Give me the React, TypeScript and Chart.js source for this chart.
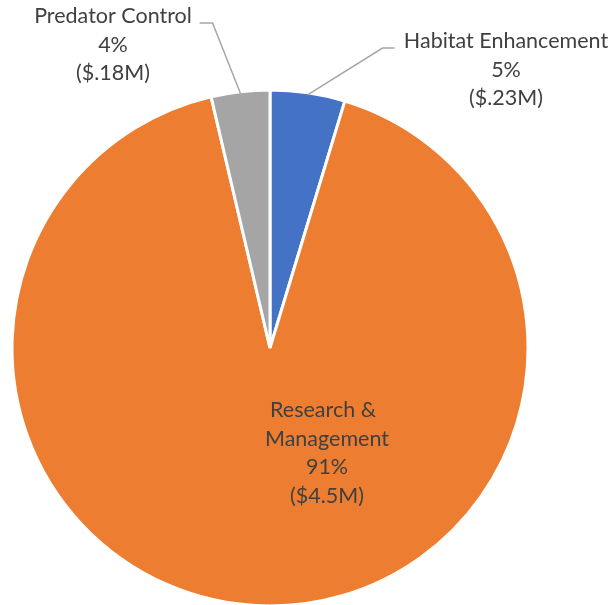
import React, { useEffect, useRef } from "react";
import { Chart, registerables } from "chart.js";

Chart.register(...registerables);

const categories = ["Habitat Enhancement", "Research & Management", "Predator Control"];
const valuesM = [0.23, 4.5, 0.18];
const percentLabels = ["5%", "91%", "4%"];
const moneyLabels = ["($.23M)", "($4.5M)", "($.18M)"];
const colors = ["#4472C4", "#ED7D31", "#A5A5A5"];

const FONT = "21.5px Lato";
const TEXT_COLOR = "#404040";
const LINE_H = 28.7;

const labelPlugin = {
  id: "pieLabels",
  afterDraw(chart: any) {
    const ctx = chart.ctx;
    const meta = chart.getDatasetMeta(0);
    ctx.save();
    ctx.font = FONT;
    ctx.fillStyle = TEXT_COLOR;
    ctx.textAlign = "center";
    ctx.textBaseline = "middle";
    meta.data.forEach((arc: any, i: number) => {
      const { x, y, startAngle, endAngle, outerRadius } = arc.getProps(
        ["x", "y", "startAngle", "endAngle", "outerRadius"],
        true
      );
      const mid = (startAngle + endAngle) / 2;
      const ex = x + Math.cos(mid) * (outerRadius - 2);
      const ey = y + Math.sin(mid) * (outerRadius - 2);
      if (i === 1) {
        const lines = ["Research &", "Management", percentLabels[i], moneyLabels[i]];
        const cx = x + 57;
        const cy0 = y + 62;
        lines.forEach((t, k) => ctx.fillText(t, k === 0 ? cx - 4 : cx, cy0 + k * LINE_H));
        return;
      }
      let lines: string[];
      let tx: number, ty: number, hx1: number, hx2: number, hy: number;
      if (i === 0) {
        lines = [categories[0], percentLabels[0], moneyLabels[0]];
        tx = x + 236;
        ty = y - 307;
        hx1 = ex + 75;
        hx2 = ex + 87;
        hy = y - 300;
      } else {
        lines = [categories[2], percentLabels[2], moneyLabels[2]];
        tx = x - 157;
        ty = y - 332;
        hx1 = ex - 28;
        hx2 = ex - 41;
        hy = y - 325;
      }
      ctx.strokeStyle = "#A6A6A6";
      ctx.lineWidth = 1.5;
      ctx.beginPath();
      ctx.moveTo(ex, ey);
      ctx.lineTo(hx1, hy);
      ctx.lineTo(hx2, hy);
      ctx.stroke();
      lines.forEach((t, k) => ctx.fillText(t, tx, ty + k * LINE_H));
    });
    ctx.restore();
  },
};

export default function App() {
  const ref = useRef<HTMLCanvasElement | null>(null);
  useEffect(() => {
    if (!ref.current) return;
    const chart = new Chart(ref.current, {
      type: "pie",
      data: {
        labels: categories,
        datasets: [
          {
            data: valuesM,
            backgroundColor: colors,
            borderColor: "#FFFFFF",
            borderWidth: 3,
          },
        ],
      },
      options: {
        responsive: false,
        animation: false,
        radius: 258,
        layout: { padding: { left: 13, right: 86, top: 91, bottom: 0 } },
        plugins: {
          legend: { display: false },
          tooltip: { enabled: false },
        },
      },
      plugins: [labelPlugin],
    });
    return () => chart.destroy();
  }, []);
  return (
    <div style={{ position: "fixed", left: 0, top: 0, width: 613, height: 605, background: "#fff" }}>
      <canvas ref={ref} width={613} height={605} style={{ width: 613, height: 605 }} />
    </div>
  );
}
